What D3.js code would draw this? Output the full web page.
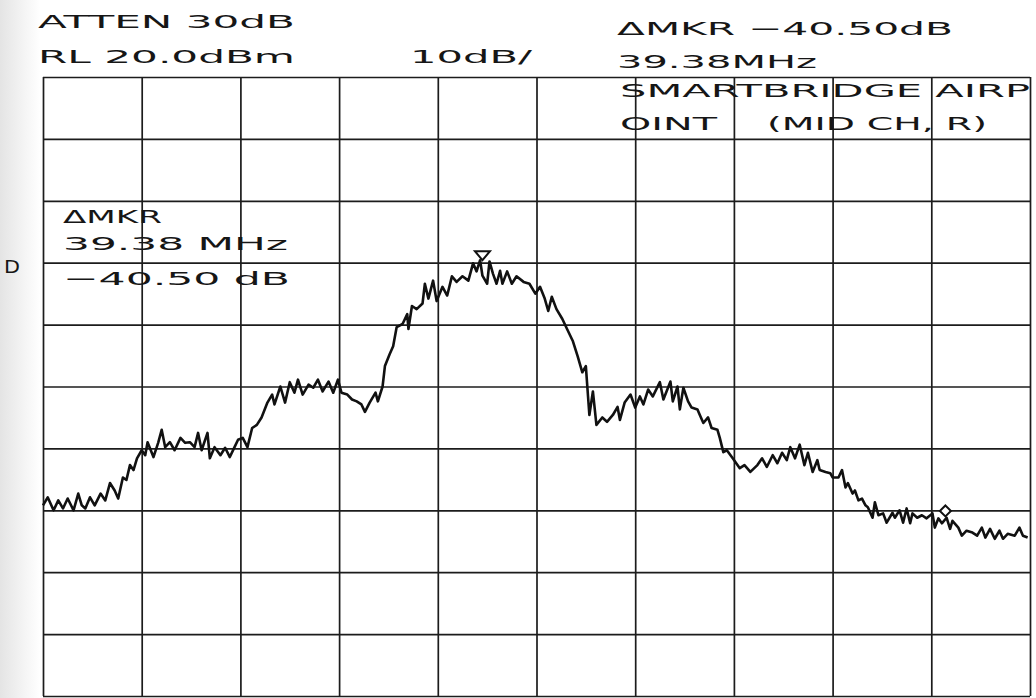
<!DOCTYPE html>
<html>
<head>
<meta charset="utf-8">
<script src="https://cdn.jsdelivr.net/npm/d3@7"></script>
<style>
  html, body { margin: 0; padding: 0; background: #fff; }
  svg { display: block; }
  .plot-text { font-family: 'DejaVu Sans', sans-serif; font-size: 18.5px; fill: #161616; }
</style>
</head>
<body>
<svg id="chart" width="1036" height="698"></svg>
<script>
// trace: frequency from left edge (MHz), level (dBm)
const freqMHz = [
  0.0, 0.4, 0.9, 1.3, 1.7, 2.1, 2.6, 3.0, 3.3, 3.6,
  4.0, 4.4, 4.9, 5.3, 5.7, 6.1, 6.4, 6.8, 7.1, 7.4,
  7.7, 8.0, 8.4, 8.7, 8.9, 9.4, 9.8, 10.1, 10.4, 10.8,
  11.2, 11.7, 12.1, 12.5, 12.9, 13.2, 13.5, 14.0, 14.2, 14.6,
  15.1, 15.5, 15.9, 16.3, 16.6, 17.0, 17.4, 17.8, 18.2, 18.6,
  19.1, 19.5, 19.7, 20.2, 20.6, 21.0, 21.4, 21.7, 22.1, 22.6,
  23.0, 23.4, 23.8, 24.3, 24.7, 25.1, 25.4, 25.9, 26.3, 26.7,
  27.1, 27.4, 27.8, 28.3, 28.5, 28.9, 29.1, 29.5, 29.8, 30.1,
  30.6, 31.0, 31.1, 31.4, 31.8, 32.3, 32.5, 32.8, 33.2, 33.5,
  34.0, 34.4, 34.8, 35.2, 35.7, 36.2, 36.6, 36.9, 37.2, 37.4,
  37.8, 38.0, 38.3, 38.6, 38.9, 39.1, 39.5, 39.9, 40.3, 40.9,
  41.4, 41.9, 42.3, 42.7, 43.0, 43.3, 43.7, 44.2, 44.6, 45.1,
  45.5, 45.9, 46.2, 46.5, 46.8, 47.1, 47.6, 48.0, 48.5, 48.9,
  49.1, 49.5, 50.0, 50.4, 50.8, 51.1, 51.5, 51.9, 52.5, 52.8,
  53.4, 53.6, 54.0, 54.2, 54.5, 54.9, 55.2, 55.7, 55.9, 56.2,
  56.6, 56.9, 57.4, 57.6, 57.9, 58.2, 58.7, 59.3, 59.7, 60.2,
  60.8, 61.2, 61.6, 62.1, 62.5, 62.9, 63.3, 63.6, 64.0, 64.4,
  64.8, 65.1, 65.5, 65.9, 66.1, 66.6, 67.0, 67.2, 67.7, 68.0,
  68.3, 68.5, 68.9, 69.1, 69.4, 69.7, 70.0, 70.2, 70.6, 70.8,
  71.1, 71.5, 71.8, 72.3, 72.5, 72.9, 73.2, 73.5, 73.8, 74.0,
  74.4, 74.8, 75.2, 75.7, 75.9, 76.2, 76.5, 76.9, 77.2, 77.4,
  77.9, 78.2, 78.6, 79.1, 79.5, 79.9, 80.2, 80.6, 81.0, 81.4,
  81.7, 82.1, 82.7, 83.1, 83.4, 83.8
]
const levelDbm = [
  -49.2, -47.9, -50.0, -48.4, -49.7, -48.1, -50.0, -47.3, -49.2, -49.7,
  -47.9, -49.2, -47.3, -48.4, -45.6, -46.8, -48.1, -44.7, -45.1, -42.7,
  -43.5, -41.6, -40.3, -41.1, -39.0, -41.4, -39.1, -37.0, -39.8, -39.0,
  -40.3, -38.3, -39.1, -39.0, -39.8, -37.5, -40.3, -37.5, -41.6, -39.8,
  -41.1, -39.9, -41.4, -39.8, -38.6, -38.3, -39.8, -36.7, -36.2, -35.0,
  -32.6, -31.3, -32.9, -30.0, -32.6, -29.3, -31.0, -28.9, -31.3, -29.7,
  -30.2, -28.9, -30.8, -29.2, -31.0, -28.9, -31.0, -31.3, -32.1, -32.4,
  -32.9, -34.1, -32.6, -31.0, -32.4, -30.0, -26.7, -24.8, -23.5, -20.4,
  -19.9, -18.3, -20.7, -17.0, -17.5, -16.6, -13.4, -15.8, -12.9, -16.2,
  -13.9, -15.3, -12.2, -13.1, -12.2, -12.9, -10.1, -11.4, -9.6, -12.1,
  -13.4, -9.8, -11.8, -13.4, -11.3, -13.4, -11.4, -13.4, -12.2, -13.1,
  -13.4, -15.0, -13.9, -15.8, -17.8, -15.5, -17.5, -19.1, -20.7, -22.7,
  -25.1, -27.7, -26.7, -34.6, -30.8, -36.2, -35.0, -35.7, -34.6, -33.3,
  -35.4, -32.6, -31.3, -33.4, -31.6, -32.9, -30.5, -31.6, -29.3, -32.1,
  -29.2, -32.4, -30.0, -33.7, -30.2, -32.4, -33.4, -33.7, -34.6, -35.9,
  -35.0, -36.7, -37.0, -38.3, -40.6, -40.3, -41.6, -43.2, -42.7, -43.8,
  -42.7, -41.6, -43.0, -41.1, -42.4, -40.7, -41.9, -39.8, -41.6, -39.4,
  -42.7, -40.7, -43.8, -41.9, -43.5, -43.8, -44.0, -44.7, -44.7, -43.5,
  -46.3, -45.6, -47.3, -46.8, -48.4, -48.1, -49.2, -49.5, -51.2, -48.7,
  -50.8, -50.5, -52.0, -50.4, -51.2, -50.0, -52.0, -49.7, -52.1, -50.5,
  -51.2, -50.8, -51.3, -50.5, -52.8, -51.3, -52.1, -51.2, -53.0, -51.7,
  -52.8, -54.1, -53.3, -53.6, -54.1, -52.8, -54.4, -53.0, -54.6, -53.3,
  -54.6, -53.8, -54.1, -52.8, -54.1, -54.4
]

// marker (peak) and delta marker
const markerFreq = [37.4, 76.8]
const markerLevel = [-9.6, -50.1]

// graticule: 10 divisions each way
const freqTicks = [0, 8.4, 16.8, 25.2, 33.6, 42, 50.4, 58.8, 67.2, 75.6, 84]
const levelTicks = [20, 10, 0, -10, -20, -30, -40, -50, -60, -70, -80]

const headerLeft = ['ATTEN 30dB', 'RL 20.0dBm']
const scaleLabel = '10dB/'
const headerRight = ['ΔMKR −40.50dB', '39.38MHz']
const titleLines = ['SMARTBRIDGE AIRP', 'OINT', '(MID CH, R)']
const markerReadout = ['ΔMKR', '39.38 MHz', '−40.50 dB']
const sideLabel = 'D'

const frame = { left: 43, right: 1030, top: 77, bottom: 696 }

const svg = d3.select('#chart')

// scanned paper: slight grey on the left margin
let defs = svg.append('defs')
let grad = defs.append('linearGradient')
    .attr('id', 'paper')
    .attr('x1', 0).attr('x2', 1).attr('y1', 0).attr('y2', 0)
grad.append('stop').attr('offset', 0).attr('stop-color', '#e4e4e4')
grad.append('stop').attr('offset', 1).attr('stop-color', '#ffffff')

svg.append('rect')
    .attr('width', 1036).attr('height', 698)
    .style('fill', '#fff')
svg.append('rect')
    .attr('width', 40).attr('height', 698)
    .style('fill', 'url(#paper)')

const x = d3.scaleLinear()
    .domain([0, 84])
    .range([frame.left, frame.right])

const y = d3.scaleLinear()
    .domain([-80, 20])
    .range([frame.bottom, frame.top])

// graticule via axes with full-length ticks
svg.append('g')
    .attr('class', 'grid-x')
    .attr('transform', `translate(0,${ frame.bottom })`)
    .call(d3.axisBottom(x)
      .tickValues(freqTicks)
      .tickSize(-(frame.bottom - frame.top))
      .tickFormat(''))
    .call(g => g.select('.domain').remove())

svg.append('g')
    .attr('class', 'grid-y')
    .attr('transform', `translate(${ frame.left },0)`)
    .call(d3.axisLeft(y)
      .tickValues(levelTicks)
      .tickSize(-(frame.right - frame.left))
      .tickFormat(''))
    .call(g => g.select('.domain').remove())

svg.selectAll('.grid-x line, .grid-y line')
    .style('stroke', '#1c1c1c')
    .style('stroke-width', 1.7)

// trace
const trace = freqMHz.map((f, i) => [f, levelDbm[i]])

svg.append('path')
    .datum(trace)
    .attr('d', d3.line().x(d => x(d[0])).y(d => y(d[1])))
    .style('fill', 'none')
    .style('stroke', '#111')
    .style('stroke-width', 2.6)
    .style('stroke-linejoin', 'round')

// markers: inverted triangle on the peak, diamond for the delta marker
let mx = x(markerFreq[0]), my = y(markerLevel[0])
svg.append('path')
    .attr('d', `M${ mx - 7.5 },${ my - 9 }L${ mx + 7.5 },${ my - 9 }L${ mx },${ my }Z`)
    .style('fill', '#fff')
    .style('stroke', '#111')
    .style('stroke-width', 2)

let dx = x(markerFreq[1]), dy = y(markerLevel[1])
svg.append('path')
    .attr('d', `M${ dx },${ dy - 5.5 }L${ dx + 5.5 },${ dy }L${ dx },${ dy + 5.5 }L${ dx - 5.5 },${ dy }Z`)
    .style('fill', '#fff')
    .style('stroke', '#111')
    .style('stroke-width', 2)

// plotter annotations: [text, x start, x end, baseline]
const labels = [
  [headerLeft[0], 38, 295, 28],
  [headerLeft[1], 38, 295, 63],
  [scaleLabel, 410, 532, 63],
  [headerRight[0], 617, 953, 35],
  [headerRight[1], 617, 817, 68],
  [titleLines[0], 620, 1030, 97],
  [titleLines[1], 620, 717, 130],
  [titleLines[2], 767, 987, 130],
  [markerReadout[0], 63, 162, 223],
  [markerReadout[1], 63, 288, 250],
  [markerReadout[2], 63, 290, 285],
  [sideLabel, 4, 20, 273]
]

svg.selectAll('text.plot-text')
    .data(labels)
  .enter().append('text')
    .attr('class', 'plot-text')
    .attr('x', d => d[1])
    .attr('y', d => d[3])
    .attr('textLength', d => d[2] - d[1])
    .attr('lengthAdjust', 'spacingAndGlyphs')
    .text(d => d[0])
</script>
</body>
</html>
